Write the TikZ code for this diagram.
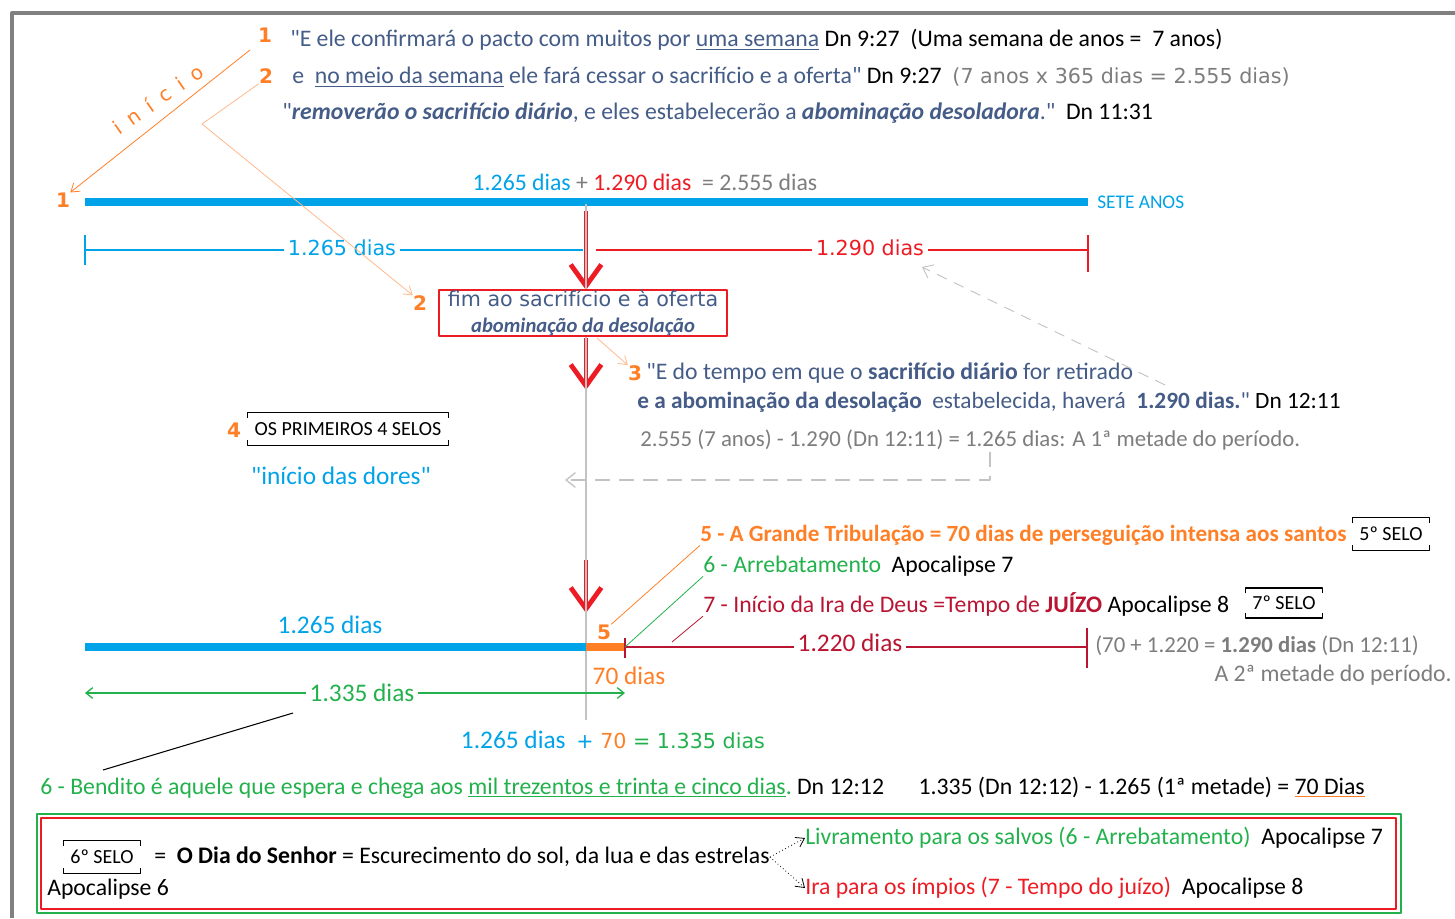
\documentclass[tikz,border=0pt]{standalone}
\usepackage{fontspec}
\setmainfont{Carlito}[Ligatures=TeXOff]
\newfontfamily\tahoma{DejaVu Sans}[Ligatures=TeXOff]
\usetikzlibrary{arrows.meta}

\definecolor{barblue}{RGB}{0,162,232}
\definecolor{orng}{RGB}{255,127,39}
\definecolor{peach}{RGB}{255,185,140}
\definecolor{grn}{RGB}{34,177,76}
\definecolor{dred}{RGB}{185,20,50}
\definecolor{rd}{RGB}{237,28,36}
\definecolor{slate}{RGB}{68,92,135}
\definecolor{txtgray}{RGB}{125,125,125}
\definecolor{lgray}{RGB}{195,195,195}
\definecolor{framegray}{RGB}{128,128,128}

\newcommand\tah{\tahoma\fontsize{15.5}{18}\selectfont}
\newcommand\bigtxt{\fontsize{19}{22}\selectfont}
\newcommand\graytxt{\fontsize{17.1}{20}\selectfont}
\newcommand\selobrk[1]{\draw[line width=1pt]
  ([yshift=-4pt]#1.north west) -- (#1.north west) -- (#1.north east) -- ([yshift=-4pt]#1.north east)
  ([yshift=4pt]#1.south west) -- (#1.south west) -- (#1.south east) -- ([yshift=4pt]#1.south east);}

\tikzset{
  txt/.style={inner sep=0pt, anchor=west},
  num/.style={inner sep=0pt, text=orng, font=\tahoma\fontsize{15}{17}\selectfont\bfseries},
  lbl/.style={inner sep=0pt, fill=white, inner xsep=3pt},
  selo/.style={inner sep=0pt, font=\fontsize{15}{17}\selectfont},
  redarrow/.style={draw=rd, line width=3pt, -{Straight Barb[length=16pt, width=23pt, line width=3.6pt]}},
  gdash/.style={draw=lgray, line width=1pt, dash pattern=on 11pt off 7pt, -{Straight Barb[length=7pt, width=11pt]}},
  thin/.style={line width=0.6pt, -{Straight Barb[length=6pt, width=8pt]}}
}

\begin{document}
\begin{tikzpicture}[x=0.75pt, y=-0.75pt, font=\fontsize{17.8}{21}\selectfont, line join=round]
\useasboundingbox (0,0) rectangle (1455,918);
\draw[framegray, line width=3pt] (12,918) -- (12,13) -- (1455,13);

% top text
\node[num] (n1) at (265,35) {1};
\node[txt, text=slate] (l1) at (290,40) {"E ele confirmará o pacto com muitos por \underline{uma semana}\ \textcolor{black}{Dn 9:27\ \ (Uma semana de anos = \ 7 anos)}};
\node[num] (n2) at (266,76) {2};
\node[txt, text=slate] (l2) at (292,77) {e\ \ \underline{no meio da semana} ele fará cessar o sacrifício e a oferta"\ \textcolor{black}{Dn 9:27}\ \ \textcolor{txtgray}{\tah(7 anos x 365 dias = 2.555 dias)}};
\node[txt, text=slate] (l3) at (282,113) {"\textbf{\textit{removerão o sacrifício diário}}, e eles estabelecerão a \textbf{\textit{abominação desoladora}}."\ \ \textcolor{black}{Dn 11:31}};

% inicio
\node[num] (b1) at (63,200) {1};
\coordinate (ini) at (250,50);
\draw[orng, thin] (ini) -- (b1.north east);
\node[rotate=35, text=orng, inner sep=0pt, font=\tahoma\fontsize{15}{17}\selectfont] (inicio) at (158,99) {i\hspace{8pt}n\hspace{8pt}í\hspace{8pt}c\hspace{8pt}i\hspace{8pt}o};

% seven years
\coordinate (t0) at (85,202);
\coordinate (t1) at (1088,202);
\draw[barblue, line width=6pt] (t0) -- (t1);
\node[txt, text=barblue, font=\fontsize{14.5}{17}\selectfont] (sete) at (1097,202) {SETE ANOS};
\node[inner sep=0pt] (soma) at (645,182) {\textcolor{barblue}{1.265 dias} \textcolor{txtgray}{+} \textcolor{rd}{1.290 dias}\ \ \textcolor{txtgray}{= 2.555 dias}};

% halves
\coordinate (h0) at (85,250);
\coordinate (h1) at (583,250);
\coordinate (h2) at (596,250);
\coordinate (h3) at (1088,250);
\draw[barblue, line width=1pt] (85,235) -- (85,265) (h0) -- (h1);
\draw[rd, line width=1pt] (1088,235) -- (1088,272) (h2) -- (h3);
\node[lbl, text=barblue, font=\tah] (d1265) at (342,248) {1.265 dias};
\node[lbl, text=rd, font=\tah] (d1290) at (870,248) {1.290 dias};

% red arrows and middle line
\coordinate (r1a) at (586,211);
\coordinate (r1b) at (586,290);
\coordinate (r2a) at (586,338);
\coordinate (r2b) at (586,390);
\coordinate (r3a) at (586,560);
\coordinate (r3b) at (586,613);
\draw[redarrow] (r1a) -- (r1b);
\draw[redarrow] (r2a) -- (r2b);
\draw[redarrow] (r3a) -- (r3b);
\coordinate (mid0) at (586,204);
\coordinate (mid1) at (586,720);
\draw[lgray, line width=0.8pt] (mid0) -- (mid1);

% box 2
\node[draw=rd, fill=white, line width=1pt, minimum width=216pt, minimum height=34.5pt, inner sep=0pt, align=center, text=slate] (box) at (583,313)
  {{\tah fim ao sacrifício e à oferta}\\[-2pt]{\fontsize{15.5}{18}\selectfont\bfseries\itshape abominação da desolação}};
\node[num] (b2) at (420,303) {2};
\coordinate (k2) at (202,124);
\draw[peach, thin] (n2.south west) -- (k2) -- (b2.north west);

% 3
\node[num] (n3) at (635,373) {3};
\coordinate (p3) at (597,338);
\draw[peach, thin] (p3) -- (n3.north west);
\node[txt, text=slate] (q3a) at (646,373) {"E do tempo em que o \textbf{sacrifício diário} for retirado};
\node[txt, text=slate, font=\fontsize{17.5}{20}\selectfont] (q3b) at (637,402) {\textbf{e a abominação da desolação}\ \ estabelecida, haverá\ \ \textbf{1.290 dias.}"\ \textcolor{black}{Dn 12:11}};
\node[txt, text=txtgray, font=\graytxt] (calc1) at (640,440) {2.555 (7 anos) - 1.290 (Dn 12:11) = 1.265 dias: A 1ª metade do período.};
\coordinate (g1) at (1165,385);
\coordinate (g2) at (922,267);
\draw[gdash, dash pattern=on 8pt off 6pt, line width=0.7pt] (g1) -- (g2);
\coordinate (g3) at (990,452);
\coordinate (g4) at (565,480);
\draw[gdash] (g3) |- (g4);

% 4
\node[num] (n4) at (234,430) {4};
\node[selo, minimum width=150pt, minimum height=24pt] (selo4) at (348,429) {OS PRIMEIROS 4 SELOS};
\selobrk{selo4}
\node[inner sep=0pt, text=barblue, font=\bigtxt] (dores) at (341,476) {"início das dores"};

% events
\node[txt, text=orng, font=\fontsize{17.4}{20}\selectfont\bfseries] (e5) at (700,535) {5 - A Grande Tribulação = 70 dias de perseguição intensa aos santos};
\node[selo, minimum width=57pt, minimum height=24pt] (selo5) at (1391,534) {5º SELO};
\selobrk{selo5}
\node[txt, text=grn] (e6) at (703,566) {6 - Arrebatamento\ \ \textcolor{black}{Apocalipse 7}};
\node[txt, text=dred] (e7) at (703,604) {7 - Início da Ira de Deus =Tempo de \textbf{JUÍZO}\ \textcolor{black}{Apocalipse 8}};
\node[selo, minimum width=57pt, minimum height=22pt] (selo7) at (1284,603) {7º SELO};
\selobrk{selo7}

% second half
\coordinate (u0) at (85,647);
\coordinate (u1) at (586,647);
\coordinate (u2) at (625,647);
\coordinate (u3) at (1087,647);
\coordinate (u4) at (672,642);
\draw[barblue, line width=6pt] (u0) -- (u1);
\draw[orng, line width=6pt] (u1) -- (u2);
\draw[dred, line width=1pt] (u2) -- (u3) (625,638) -- (625,658) (1087,628) -- (1087,668);
\node[lbl, text=dred, font=\bigtxt] (d1220) at (850,643) {1.220 dias};
\node[inner sep=0pt, text=barblue, font=\bigtxt] (d1265b) at (330,625) {1.265 dias};
\node[num] (n5) at (604,632) {5};
\node[inner sep=0pt, text=orng, font=\bigtxt] (d70) at (629,676) {70 dias};
\draw[orng, line width=0.6pt] (n5.north east) -- (e5.south west);
\draw[grn, line width=0.6pt] (u2) -- (e6.south west);
\draw[dred, line width=0.6pt] (u4) -- (e7.south west);
\node[txt, text=txtgray, font=\graytxt] (calc2) at (1095,646) {(70 + 1.220 = \textbf{1.290 dias} (Dn 12:11)};
\node[inner sep=0pt, anchor=east, text=txtgray] (calc3) at (1452,675) {A 2ª metade do período.};

% 1335
\coordinate (v0) at (85,693);
\coordinate (v1) at (625,693);
\draw[grn, line width=1pt, {Straight Barb[length=5pt, width=8pt]}-{Straight Barb[length=5pt, width=8pt]}] (v0) -- (v1);
\node[lbl, text=grn, font=\bigtxt] (d1335) at (362,693) {1.335 dias};
\node[inner sep=0pt] (soma2) at (613,740) {\textcolor{barblue}{\bigtxt 1.265 dias}\ \ {\tah\textcolor{barblue}{+} \textcolor{orng}{70} \textcolor{grn}{= 1.335 dias}}};
\node[txt, text=grn] (bendito) at (40,788) {6 - Bendito é aquele que espera e chega aos \underline{mil trezentos e trinta e cinco dias}.\ \textcolor{black}{Dn 12:12\quad\ \ 1.335 (Dn 12:12) - 1.265 (1ª metade) = \textcolor{orng}{\underline{\textcolor{black}{70 Dias}}}}};
\coordinate (w0) at (103,770);
\coordinate (w1) at (293,713);
\draw[line width=0.8pt] (w0) -- (w1);

% day of the lord
\draw[grn, line width=1.2pt] (37,814) rectangle (1401,913);
\draw[rd, line width=1.2pt] (41,818) rectangle (1396,909);
\node[selo, minimum width=57pt, minimum height=24pt] (selo6) at (102,857) {6º SELO};
\selobrk{selo6}
\node[txt] (dia) at (154,857) {=\ \ \textbf{O Dia do Senhor} = Escurecimento do sol, da lua e das estrelas};
\node[txt] (ap6) at (47,889) {Apocalipse 6};
\node[txt, text=grn] (livr) at (805,838) {Livramento para os salvos (6 - Arrebatamento)\ \ \textcolor{black}{Apocalipse 7}};
\node[txt, text=rd] (ira) at (805,888) {Ira para os ímpios (7 - Tempo do juízo)\ \ \textcolor{black}{Apocalipse 8}};
\draw[dotted, thin] (dia.east) -- (livr.west);
\draw[dotted, thin] (dia.east) -- (ira.west);
\end{tikzpicture}
\end{document}
